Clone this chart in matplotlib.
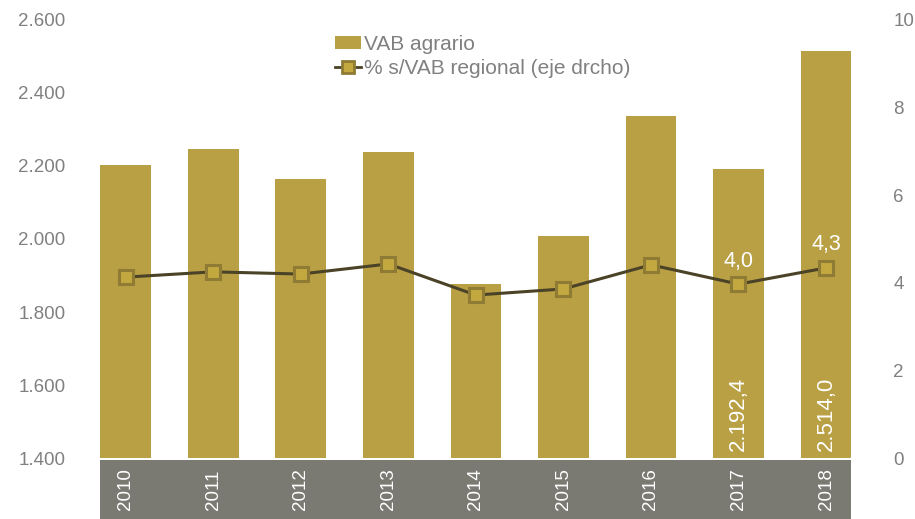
import matplotlib
matplotlib.use("Agg")
import matplotlib.pyplot as plt
from matplotlib.patches import Rectangle
from matplotlib.lines import Line2D
from matplotlib.patches import Patch
import matplotlib.transforms as mtransforms

plt.rcParams["font.family"] = ["Liberation Sans", "DejaVu Sans"]

# data
years = ["2010", "2011", "2012", "2013", "2014", "2015", "2016", "2017", "2018"]
vab_agrario = [2203, 2247, 2164, 2238, 1877, 2008, 2337, 2192.4, 2514.0]
pct_regional = [4.13, 4.25, 4.2, 4.43, 3.72, 3.86, 4.41, 3.97, 4.34]
left_ticks = [1400, 1600, 1800, 2000, 2200, 2400, 2600]
left_labels = ["1.400", "1.600", "1.800", "2.000", "2.200", "2.400", "2.600"]
right_ticks = [0, 2, 4, 6, 8, 10]

GOLD = "#B9A044"
LINE = "#4B4327"
GREY_TXT = "#808080"
BAND = "#7A7A72"

fig = plt.figure(figsize=(9.15, 5.19), dpi=100)
ax = fig.add_axes([0.0896, 0.1175, 0.861, 0.844])
x = list(range(len(years)))
bar_w = 0.58

ax.bar(x, vab_agrario, width=bar_w, color=GOLD, zorder=2)
ax.set_xlim(-0.5, len(years) - 0.5)
ax.set_ylim(1400, 2600)
ax.set_yticks(left_ticks)
ax.set_yticklabels(left_labels)
ax.tick_params(axis="y", length=0, pad=12, labelsize=13.5, labelcolor=GREY_TXT)
ax.set_xticks([])
for s in ax.spines.values():
    s.set_visible(False)

# grey band holding the year labels
trans = mtransforms.blended_transform_factory(ax.transData, ax.transAxes)
ax.add_patch(Rectangle((-bar_w / 2, -0.145), len(years) - 1 + bar_w, 0.14,
                       transform=trans, facecolor=BAND, edgecolor="none",
                       clip_on=False, zorder=1))
for xi, yr in zip(x, years):
    ax.text(xi, -0.072, yr, transform=trans, rotation=90, ha="center",
            va="center", color="white", fontsize=13.5)

# bar value labels for last two years
for i in (7, 8):
    lbl = f"{vab_agrario[i]:,.1f}".replace(",", "X").replace(".", ",").replace("X", ".")
    ax.text(x[i], 1420, lbl, rotation=90, ha="center", va="bottom",
            color="white", fontsize=16, zorder=5)

ax2 = ax.twinx()
ax2.plot(x, pct_regional, color=LINE, lw=2.2, marker="s", markersize=10,
         markerfacecolor="#C2A83F", markeredgecolor="#8F7B33",
         markeredgewidth=2.2, zorder=4)
ax2.set_ylim(0, 10)
ax2.set_yticks(right_ticks)
ax2.tick_params(axis="y", length=0, pad=17, labelsize=13.5, labelcolor=GREY_TXT)
for s in ax2.spines.values():
    s.set_visible(False)

for i in (7, 8):
    lbl = f"{pct_regional[i]:.1f}".replace(".", ",")
    ax2.annotate(lbl, (x[i], pct_regional[i]), xytext=(0, 9),
                 textcoords="offset points", ha="center", va="bottom",
                 color="white", fontsize=15.5)

handles = [
    Patch(facecolor=GOLD, edgecolor="none"),
    Line2D([], [], color=LINE, lw=2, marker="s", markersize=8,
           markerfacecolor="#C2A83F", markeredgecolor="#8F7B33",
           markeredgewidth=2),
]
leg = ax2.legend(handles, ["VAB agrario", "% s/VAB regional (eje drcho)"],
                 loc="upper left", bbox_to_anchor=(0.31, 0.985), frameon=False,
                 fontsize=15, labelcolor=GREY_TXT, handlelength=1.25,
                 handleheight=0.6, handletextpad=0.15, labelspacing=0.25,
                 borderaxespad=0)

fig.savefig("out.png", dpi=100)
